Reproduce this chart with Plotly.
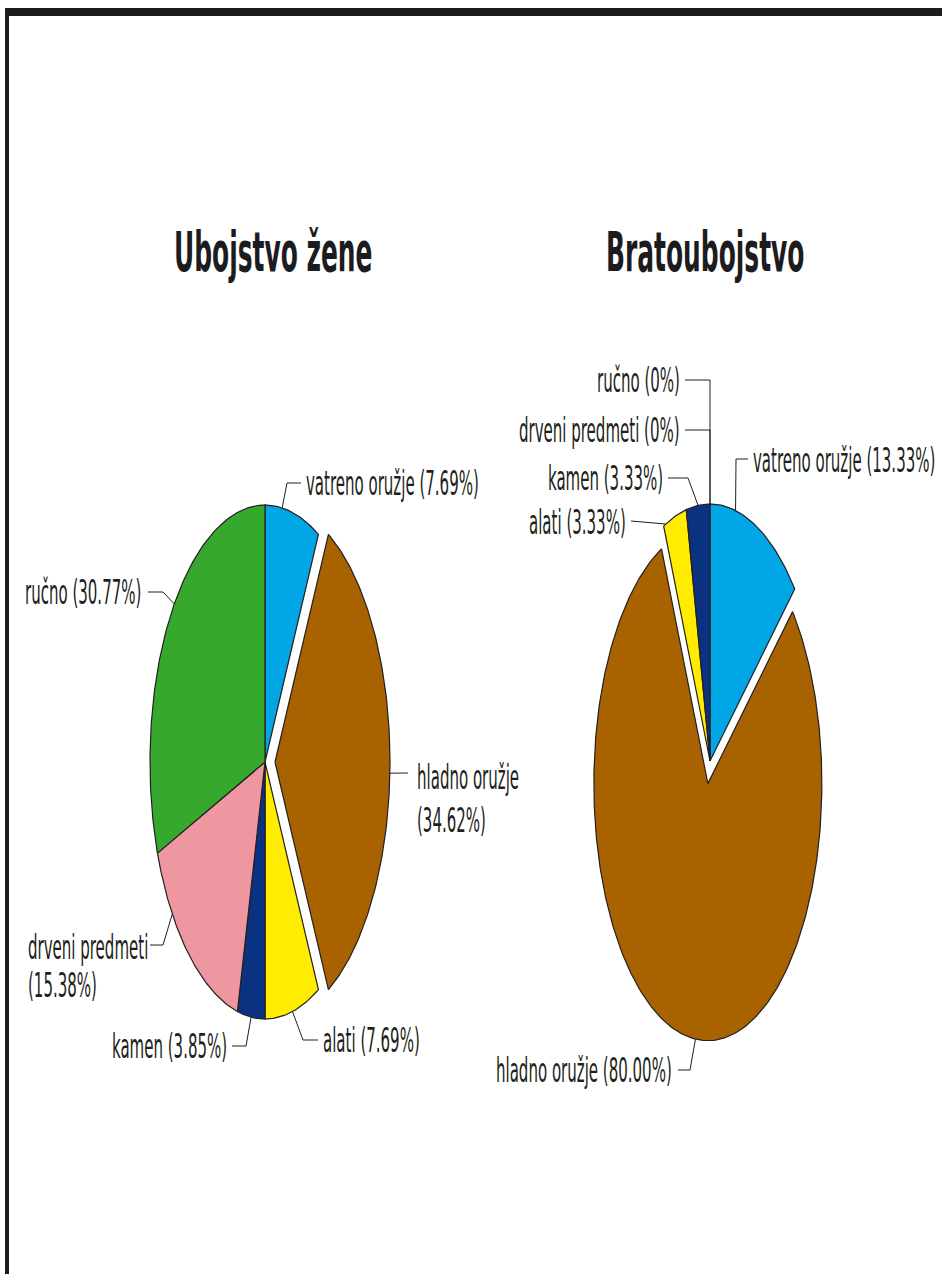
import numpy as np
import plotly.graph_objects as go

# ---------------- data ----------------
categories = ["vatreno oružje", "hladno oružje", "alati", "kamen", "drveni predmeti", "ručno"]
values_left = [7.69, 34.62, 7.69, 3.85, 15.38, 30.77]     # Ubojstvo žene (%)
values_right = [13.33, 80.00, 3.33, 3.33, 0.0, 0.0]       # Bratoubojstvo (%)
titles = ["Ubojstvo žene", "Bratoubojstvo"]

# ---------------- style / layout ----------------
W, H = 942, 1274
colors = ["#00a6e6", "#a86200", "#ffec00", "#0b3280", "#ef97a1", "#37a82e"]
INK = "#231f20"
FONT = "DejaVu Sans Condensed, Liberation Sans, sans-serif"
LABEL_SIZE = 16.7
TITLE_SIZE = 27.7
TEXT_STRETCH = 2.0   # the reference text is drawn vertically stretched

pies = [
    dict(values=values_left, title=titles[0], cx=265, cy=762, rx=115, ry=257,
         explode={1: 0.087}, title_xy=(273, 252),
         labels={
             0: dict(frac=0.31, path=[(287, 483), (301, 483)], text=[(304, 483)], anchor="left"),
             1: dict(frac=0.52, path=[(408, 773)], text=[(415, 777), (415, 820)], anchor="left"),
             2: dict(frac=0.5, path=[(303, 1040), (318, 1040)], text=[(321, 1040)], anchor="left"),
             3: dict(frac=0.5, path=[(246, 1046), (232, 1046)], text=[(229, 1046)], anchor="right"),
             4: dict(frac=0.72, path=[(163, 945), (150, 945)], text=[(26, 947), (26, 985)], anchor="left"),
             5: dict(frac=0.53, path=[(163, 592), (148, 592)], text=[(143, 592)], anchor="right"),
         }),
    dict(values=values_right, title=titles[1], cx=710, cy=761, rx=114, ry=257,
         explode={1: 0.09}, title_xy=(705, 252),
         labels={
             0: dict(frac=0.27, path=[(736, 459), (748, 459)], text=[(751, 460)], anchor="left"),
             1: dict(frac=0.48, path=[(690, 1070), (678, 1070)], text=[(674, 1070)], anchor="right"),
             2: dict(frac=0.1, path=[(631, 521)], text=[(628, 522)], anchor="right"),
             3: dict(frac=0.5, path=[(688, 478), (668, 478)], text=[(665, 478)], anchor="right"),
             4: dict(frac=0.5, path=[(710, 430), (685, 430)], text=[(682, 430)], anchor="right"),
             5: dict(frac=0.5, path=[(710, 380), (685, 380)], text=[(682, 380)], anchor="right"),
         }),
]


def pct_text(v):
    return f"{v:.2f}%" if v > 0 else "0%"


fig = go.Figure()
annotations = []

for pie in pies:
    vals = np.array(pie["values"], dtype=float)
    total = vals.sum()
    cum = np.concatenate([[0.0], np.cumsum(vals)]) / total * 2 * np.pi
    cx, cy, rx, ry = pie["cx"], pie["cy"], pie["rx"], pie["ry"]
    for i, cat in enumerate(categories):
        a0, a1 = cum[i], cum[i + 1]
        e = pie["explode"].get(i, 0.0)
        mid = (a0 + a1) / 2
        ox = e * rx * np.sin(mid)
        oy = -e * ry * np.cos(mid)
        if vals[i] > 0:
            n = max(3, int((a1 - a0) / (2 * np.pi) * 400))
            t = np.linspace(a0, a1, n)
            xs = np.concatenate([[cx + ox], cx + ox + rx * np.sin(t), [cx + ox]])
            ys = np.concatenate([[cy + oy], cy + oy - ry * np.cos(t), [cy + oy]])
            fig.add_trace(go.Scatter(x=xs, y=ys, mode="lines", fill="toself",
                                     fillcolor=colors[i], line=dict(color=INK, width=1.2),
                                     hoverinfo="skip", showlegend=False))
        # leader line
        spec = pie["labels"][i]
        aa = a0 + spec["frac"] * (a1 - a0) if vals[i] > 0 else a0
        ax_ = cx + ox + rx * np.sin(aa)
        ay_ = cy + oy - ry * np.cos(aa)
        px = [ax_] + [p[0] for p in spec["path"]]
        py = [ay_] + [p[1] for p in spec["path"]]
        fig.add_trace(go.Scatter(x=px, y=py, mode="lines", line=dict(color=INK, width=1),
                                 hoverinfo="skip", showlegend=False))
        # label text
        full = f"{cat} ({pct_text(vals[i])})"
        lines = [full] if len(spec["text"]) == 1 else [cat, f"({pct_text(vals[i])})"]
        for (tx, ty), line in zip(spec["text"], lines):
            annotations.append(dict(x=tx, y=ty, xref="x", yref="y", text=line, showarrow=False,
                                    xanchor=spec["anchor"], yanchor="middle",
                                    font=dict(family=FONT, size=LABEL_SIZE, color=INK)))
    tx, ty = pie["title_xy"]
    annotations.append(dict(x=tx, y=ty, xref="x", yref="y", text=f"<b>{pie['title']}</b>",
                            showarrow=False, xanchor="center", yanchor="middle",
                            font=dict(family=FONT, size=TITLE_SIZE, color="#1c1c20")))

shapes = [
    dict(type="rect", xref="x", yref="y", x0=5, x1=W + 5, y0=8, y1=16,
         fillcolor="#1c1c20", line=dict(width=0), layer="above"),
    dict(type="rect", xref="x", yref="y", x0=5, x1=9, y0=8, y1=H + 5,
         fillcolor="#1c1c20", line=dict(width=0), layer="above"),
]

fig.update_layout(
    width=W, height=H, margin=dict(l=0, r=0, t=0, b=0),
    paper_bgcolor="white", plot_bgcolor="white",
    xaxis=dict(range=[0, W], visible=False, fixedrange=True),
    yaxis=dict(range=[H, 0], visible=False, fixedrange=True),
    annotations=annotations, shapes=shapes, showlegend=False,
)

post = """
document.body.style.margin = '0';
document.body.style.overflow = 'hidden';
var gd = document.getElementById('{plot_id}');
var k = %s;
gd.querySelectorAll('text.annotation-text').forEach(function (t) {
  var b = t.getBBox();
  var c = b.y + b.height / 2;
  t.setAttribute('transform', 'translate(0,' + (c * (1 - k)) + ') scale(1,' + k + ')');
});
""" % TEXT_STRETCH

fig.write_html("out.html", config={"displayModeBar": False}, post_script=post)
